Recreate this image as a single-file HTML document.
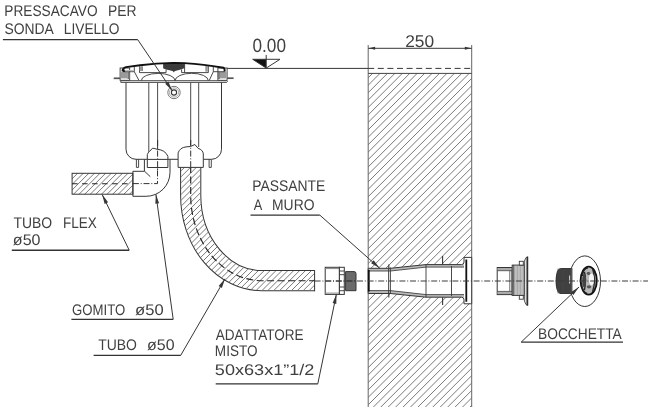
<!DOCTYPE html>
<html><head><meta charset="utf-8"><style>
html,body{margin:0;padding:0;background:#fff;}
svg{display:block;}
text{font-family:"Liberation Sans",sans-serif;}
svg{will-change:transform;}
</style></head><body>
<svg width="650" height="407" viewBox="0 0 650 407">
<rect width="650" height="407" fill="#fff"/>
<defs>
<mask id="mTube" maskUnits="userSpaceOnUse" x="0" y="0" width="650" height="407"><path d="M190.7,166 L190.7,195.2 A71.3,85.5 0 0 0 262,280.7 L314.6,280.7" stroke="#fff" stroke-width="19.2" fill="none"/></mask>
<clipPath id="cFlex"><rect x="72.1" y="173.3" width="60.8" height="20.9"/></clipPath>
<clipPath id="cWall"><rect x="368.2" y="73.4" width="103.5" height="340"/></clipPath>
<clipPath id="cTubeTop"><rect x="180" y="167.4" width="21" height="20"/></clipPath>
</defs>
<g clip-path="url(#cWall)"><path d="M22.10,409.00L360.10,71.00M29.54,409.00L367.54,71.00M36.97,409.00L374.97,71.00M44.40,409.00L382.40,71.00M51.83,409.00L389.83,71.00M59.26,409.00L397.26,71.00M66.70,409.00L404.70,71.00M74.13,409.00L412.13,71.00M81.56,409.00L419.56,71.00M88.99,409.00L426.99,71.00M96.42,409.00L434.42,71.00M103.86,409.00L441.86,71.00M111.29,409.00L449.29,71.00M118.72,409.00L456.72,71.00M126.15,409.00L464.15,71.00M133.58,409.00L471.58,71.00M141.02,409.00L479.02,71.00M148.45,409.00L486.45,71.00M155.88,409.00L493.88,71.00M163.31,409.00L501.31,71.00M170.74,409.00L508.74,71.00M178.18,409.00L516.18,71.00M185.61,409.00L523.61,71.00M193.04,409.00L531.04,71.00M200.47,409.00L538.47,71.00M207.90,409.00L545.90,71.00M215.34,409.00L553.34,71.00M222.77,409.00L560.77,71.00M230.20,409.00L568.20,71.00M237.63,409.00L575.63,71.00M245.06,409.00L583.06,71.00M252.50,409.00L590.50,71.00M259.93,409.00L597.93,71.00M267.36,409.00L605.36,71.00M274.79,409.00L612.79,71.00M282.22,409.00L620.22,71.00M289.66,409.00L627.66,71.00M297.09,409.00L635.09,71.00M304.52,409.00L642.52,71.00M311.95,409.00L649.95,71.00M319.38,409.00L657.38,71.00M326.82,409.00L664.82,71.00M334.25,409.00L672.25,71.00M341.68,409.00L679.68,71.00M349.11,409.00L687.11,71.00M356.54,409.00L694.54,71.00M363.98,409.00L701.98,71.00M371.41,409.00L709.41,71.00M378.84,409.00L716.84,71.00M386.27,409.00L724.27,71.00M393.70,409.00L731.70,71.00M401.14,409.00L739.14,71.00M408.57,409.00L746.57,71.00M416.00,409.00L754.00,71.00M423.43,409.00L761.43,71.00M430.86,409.00L768.86,71.00M438.30,409.00L776.30,71.00M445.73,409.00L783.73,71.00M453.16,409.00L791.16,71.00M460.59,409.00L798.59,71.00M468.02,409.00L806.02,71.00M475.46,409.00L813.46,71.00M482.89,409.00L820.89,71.00" stroke="#7a7a7a" stroke-width="1.0" fill="none"/></g>
<path d="M368.2,45 V407 M471.7,45 V407" stroke="#666" stroke-width="1" fill="none"/>
<path d="M368.2,73.4 H471.7" stroke="#444" stroke-width="1" fill="none"/>
<path d="M368.2,48.3 H471.7" stroke="#363636" stroke-width="1" fill="none"/>
<path d="M368.60,48.30L375.10,46.85L375.10,49.75Z" fill="#363636"/>
<path d="M471.30,48.30L464.80,49.75L464.80,46.85Z" fill="#363636"/>
<path d="M226.8,68.4 H368.2" stroke="#363636" stroke-width="1" fill="none"/>
<path d="M368.2,68.4 H471.7" stroke="#363636" stroke-width="1" stroke-dasharray="6 3.6" fill="none"/>
<path d="M252.7,59.3 L266.2,68.1 L266.2,59.3 Z" fill="#111"/>
<path d="M252.7,59.3 H280 L266.2,68.1 Z M266.2,54.9 V68.1" stroke="#363636" stroke-width="1" fill="none"/>
<path d="M368.2,268.3 H390.4 L426,264.6 H461.5 Q464,264.6 464,262 V257.4 H471.7 V303.8 H464 V299.8 Q464,297.2 461.5,297.2 H426 L390.4,293.5 H368.2 Z" fill="#fff" stroke="none"/>
<path d="M368.2,268.3 H390.4 L426,264.6 H464 V267.1 H426 L390.4,271 H368.2 Z M368.2,290.6 H390.4 L426,294.6 H464 V297.2 H426 L390.4,293.5 H368.2 Z" fill="#bbb"/>
<path d="M368.2,268.3 H390.4 L426,264.6 H461.5 Q464,264.6 464,262 V257.4 H471.7 V303.8 H464 V299.8 Q464,297.2 461.5,297.2 H426 L390.4,293.5 H368.2 Z" fill="none" stroke="#363636" stroke-width="1"/>
<path d="M368.2,271 H390.4 L426,267.1 H464 M368.2,290.6 H390.4 L426,294.6 H464" stroke="#444" stroke-width="0.9" fill="none"/>
<path d="M388.6,268.3 V293.5 M390.4,267.5 V293.5 M426,264.6 V297.2 M451.5,266 V296" stroke="#363636" stroke-width="0.9" fill="none"/>
<path d="M368.8,270 V291.4 M466.3,259.5 V301.8" stroke="#111" stroke-width="1.8" fill="none"/>
<path d="M388.8,264.4 V268.3 M388.8,293.5 V297.4 M442.6,256 V264.6 M442.6,297.2 V305" stroke="#363636" stroke-width="1.1" fill="none"/>
<path d="M190.7,166 L190.7,195.2 A71.3,85.5 0 0 0 262,280.7 L314.6,280.7" stroke="#363636" stroke-width="21.2" fill="none"/>
<path d="M190.7,166 L190.7,195.2 A71.3,85.5 0 0 0 262,280.7 L314.6,280.7" stroke="#fff" stroke-width="19.2" fill="none"/>
<g mask="url(#mTube)"><path d="M20.40,302.00L164.40,158.00M26.30,302.00L170.30,158.00M32.20,302.00L176.20,158.00M38.10,302.00L182.10,158.00M44.00,302.00L188.00,158.00M49.90,302.00L193.90,158.00M55.80,302.00L199.80,158.00M61.70,302.00L205.70,158.00M67.60,302.00L211.60,158.00M73.50,302.00L217.50,158.00M79.40,302.00L223.40,158.00M85.30,302.00L229.30,158.00M91.20,302.00L235.20,158.00M97.10,302.00L241.10,158.00M103.00,302.00L247.00,158.00M108.90,302.00L252.90,158.00M114.80,302.00L258.80,158.00M120.70,302.00L264.70,158.00M126.60,302.00L270.60,158.00M132.50,302.00L276.50,158.00M138.40,302.00L282.40,158.00M144.30,302.00L288.30,158.00M150.20,302.00L294.20,158.00M156.10,302.00L300.10,158.00M162.00,302.00L306.00,158.00M167.90,302.00L311.90,158.00M173.80,302.00L317.80,158.00M179.70,302.00L323.70,158.00M185.60,302.00L329.60,158.00M191.50,302.00L335.50,158.00M197.40,302.00L341.40,158.00M203.30,302.00L347.30,158.00M209.20,302.00L353.20,158.00M215.10,302.00L359.10,158.00M221.00,302.00L365.00,158.00M226.90,302.00L370.90,158.00M232.80,302.00L376.80,158.00M238.70,302.00L382.70,158.00M244.60,302.00L388.60,158.00M250.50,302.00L394.50,158.00M256.40,302.00L400.40,158.00M262.30,302.00L406.30,158.00M268.20,302.00L412.20,158.00M274.10,302.00L418.10,158.00M280.00,302.00L424.00,158.00M285.90,302.00L429.90,158.00M291.80,302.00L435.80,158.00M297.70,302.00L441.70,158.00M303.60,302.00L447.60,158.00M309.50,302.00L453.50,158.00M315.40,302.00L459.40,158.00M321.30,302.00L465.30,158.00M327.20,302.00L471.20,158.00" stroke="#787878" stroke-width="1.0" fill="none"/></g>
<path d="M314.6,270.1 V291.3" stroke="#363636" stroke-width="1" fill="none"/>
<path d="M190.7,166 L190.7,195.2 A71.3,85.5 0 0 0 262,280.7 L314.6,280.7" stroke="#222" stroke-width="1.15" stroke-dasharray="7 3.5" fill="none"/>
<rect x="325.2" y="267.3" width="14.2" height="27.1" fill="#fff" stroke="#363636" stroke-width="1"/>
<path d="M325.2,268.6 H339.4 M325.2,293.1 H339.4" stroke="#888" stroke-width="1" fill="none"/>
<rect x="339.4" y="267.3" width="4.9" height="27.1" fill="#fff" stroke="#363636" stroke-width="1"/>
<path d="M339.4,271 H344.3 M339.4,274.7 H344.3 M339.4,287 H344.3 M339.4,290.7 H344.3" stroke="#363636" stroke-width="0.9" fill="none"/>
<path d="M345.6,271.6 H354 Q356,271.6 356,273.6 V290.7 H345.6 Z" fill="#6a6a6a" stroke="#363636" stroke-width="1"/>
<path d="M325.2,281 H356" stroke="#333" stroke-width="1" stroke-dasharray="6 1.8 1 1.8" fill="none"/>
<g clip-path="url(#cFlex)"><path d="M35.10,199.00L66.10,168.00M40.70,199.00L71.70,168.00M46.30,199.00L77.30,168.00M51.90,199.00L82.90,168.00M57.50,199.00L88.50,168.00M63.10,199.00L94.10,168.00M68.70,199.00L99.70,168.00M74.30,199.00L105.30,168.00M79.90,199.00L110.90,168.00M85.50,199.00L116.50,168.00M91.10,199.00L122.10,168.00M96.70,199.00L127.70,168.00M102.30,199.00L133.30,168.00M107.90,199.00L138.90,168.00M113.50,199.00L144.50,168.00M119.10,199.00L150.10,168.00M124.70,199.00L155.70,168.00M130.30,199.00L161.30,168.00M135.90,199.00L166.90,168.00M141.50,199.00L172.50,168.00" stroke="#787878" stroke-width="1.0" fill="none"/></g>
<rect x="72.1" y="173.3" width="60.8" height="20.9" fill="none" stroke="#363636" stroke-width="1"/>
<path d="M72.1,183.7 H132.9" stroke="#222" stroke-width="1.1" stroke-dasharray="5.5 4.5" fill="none"/>
<path d="M132.9,171.3 H144.4 V159.3 M132.9,171.3 V196.3 H146.1 A23.9,23.9 0 0 0 170,172.4 V159.3" fill="none" stroke="#363636" stroke-width="1"/>
<path d="M144.4,171.1 L150.3,176.7" fill="none" stroke="#363636" stroke-width="1"/>
<path d="M132.9,183.6 H157.5 V140" fill="none" stroke="#333" stroke-width="1" stroke-dasharray="6 1.8 1 1.8"/>
<path d="M126,82.3 V149.3 A10,10 0 0 0 136,159.3 H147.3 M167.9,159.3 H178.1 M203.3,159.3 H211.5 A10,10 0 0 0 221.5,149.3 V82.3" fill="none" stroke="#363636" stroke-width="1"/>
<path d="M148.8,82.3 V153 M157.6,82.3 V149 M190.7,82.3 V146.5 M198.7,82.3 V147" fill="none" stroke="#363636" stroke-width="0.9"/>
<path d="M136.4,159.3 V167.4 H138.6 V159.3 M209.1,159.3 V167.4 H211.3 V159.3" fill="none" stroke="#363636" stroke-width="0.9"/>
<path d="M147.3,167.5 V154.6 Q148,152.5 149.5,151.5 L152.5,148.2 Q155,148.5 157.2,149.3 Q165,149.8 167.9,156.3 V167.5 Z" fill="#fff" stroke="#363636" stroke-width="1"/>
<path d="M147.3,159.4 H167.9" fill="none" stroke="#363636" stroke-width="1"/>
<path d="M178.1,167.4 V152.9 Q180,147.5 186,146.9 L190.5,146.5 L194.9,144.5 L198.1,148.3 Q203,150 203.3,153.9 V167.4 Z" fill="#fff" stroke="#363636" stroke-width="1"/>
<path d="M157.6,140 V170 M190.7,140 V168" fill="none" stroke="#333" stroke-width="1" stroke-dasharray="6 1.8 1 1.8"/>
<path d="M120.8,80.7 H226.6 L227.4,81.6 L226.6,82.4 H120.8 Z" fill="#fff" stroke="#363636" stroke-width="0.9"/>
<rect x="120.1" y="68" width="9.6" height="12.3" fill="#fff" stroke="#363636" stroke-width="0.9"/>
<rect x="120.7" y="72" width="6.8" height="6.4" fill="#9a9a9a"/>
<rect x="127.5" y="72" width="2.2" height="7" fill="#777"/>
<path d="M113.7,78.3 H120.1" stroke="#555" stroke-width="1.7" fill="none"/>
<rect x="217.9" y="68" width="9.2" height="12.3" fill="#fff" stroke="#363636" stroke-width="0.9"/>
<rect x="219.8" y="72" width="6.8" height="6.4" fill="#9a9a9a"/>
<rect x="217.9" y="72" width="2" height="7" fill="#777"/>
<path d="M227.1,78.2 H233.6" stroke="#555" stroke-width="1.7" fill="none"/>
<path d="M124,71.7 H134.3 V66.6 M134.3,71.7 L138.9,80.3 M139.5,66.4 V72.6 H166.1 V69.4 M142.2,66.4 V70.9 M181.6,69.4 V72.6 H208.3 V65.8 M184.6,62.8 V72.6 M164.2,63.5 V68.4 M213.3,66 V71.7 L209.3,80.3 M213.3,71.7 H224.5" fill="none" stroke="#363636" stroke-width="0.9"/>
<path d="M141.3,80.6 A16.9,7.2 0 0 1 175.1,80.6 A16.6,7.3 0 0 1 208.3,80.6" fill="none" stroke="#363636" stroke-width="0.9"/>
<rect x="139.6" y="66.4" width="2.6" height="4.5" fill="#999"/>
<rect x="205.3" y="65.8" width="2.4" height="5.9" fill="#999"/>
<path d="M125,70.6 H133.5" stroke="#bbb" stroke-width="1.2" fill="none"/>
<path d="M163.2,63.2 Q174,62 184.6,63 V68 Q182,69.6 178,70.3 Q175.5,70.6 174.6,71.3 L173.8,72.5 L173,71.3 Q172,70.6 169.5,70.3 Q166,69.8 163.2,68.3 Z" fill="#3c3c3c"/>
<path d="M122.5,71.5 Q122.3,68.3 126,67.1 Q134,66 140,65.2 Q156,63.2 174,62.9 Q195,63.2 213,66.1 L223.4,67.7 Q225,68.5 224.6,71.7" fill="none" stroke="#111" stroke-width="1.9"/>
<path d="M123.3,69.5 L124.3,71.8" stroke="#111" stroke-width="2" fill="none"/>
<circle cx="174" cy="92.5" r="6.2" fill="#fff" stroke="#777" stroke-width="1"/>
<circle cx="174" cy="92.5" r="4.6" fill="none" stroke="#999" stroke-width="0.8"/>
<circle cx="174" cy="92.5" r="2.6" fill="none" stroke="#363636" stroke-width="1.1"/>
<rect x="497.2" y="267.5" width="14.8" height="27.1" fill="#fff" stroke="#363636" stroke-width="1"/>
<path d="M497.7,268 H511.5 V270.7 H497.7 Z M497.7,291.4 H511.5 V294.1 H497.7 Z" fill="#aaa"/>
<path d="M497.2,270.7 H512 M497.2,291.4 H512 M509.8,270.7 V291.4" stroke="#444" stroke-width="0.8" fill="none"/>
<rect x="512.2" y="265.1" width="12.4" height="30.3" fill="#dadada" stroke="#363636" stroke-width="1"/>
<path d="M514.60,265.6 V294.9 M516.10,265.6 V294.9 M517.60,265.6 V294.9 M519.10,265.6 V294.9 M520.60,265.6 V294.9 M522.10,265.6 V294.9 M523.60,265.6 V294.9 " stroke="#707070" stroke-width="0.5" fill="none"/>
<path d="M513.6,265.1 V295.4" stroke="#444" stroke-width="0.8" fill="none"/>
<rect x="519.3" y="261.3" width="4" height="3.8" fill="#fff" stroke="#363636" stroke-width="0.9"/>
<rect x="519.3" y="295.4" width="4" height="3.8" fill="#fff" stroke="#363636" stroke-width="0.9"/>
<path d="M524.4,261 L526,257.6 L527.8,256.6 V305.6 L526,304.6 L524.4,301 Z" fill="#e0e0e0" stroke="#363636" stroke-width="0.8"/>
<path d="M527.2,257 V305.2" stroke="#222" stroke-width="1.3" fill="none"/>
<ellipse cx="584.8" cy="281.2" rx="15.7" ry="25.3" fill="#fff" stroke="#363636" stroke-width="1"/>
<path d="M572.4,267.9 H561.5 Q555.6,267.9 555.6,281 Q555.6,294.1 561.5,294.1 H572.4 Z" fill="#383838"/>
<path d="M557.80,268.6 V293.4 M558.95,268.6 V293.4 M560.10,268.6 V293.4 M561.25,268.6 V293.4 M562.40,268.6 V293.4 M563.55,268.6 V293.4 M564.70,268.6 V293.4 M565.85,268.6 V293.4 M567.00,268.6 V293.4 M568.15,268.6 V293.4 M569.30,268.6 V293.4 M570.45,268.6 V293.4 M571.60,268.6 V293.4 " stroke="#505050" stroke-width="0.5" fill="none"/>
<path d="M569.6,275.5 V283.5" stroke="#ccc" stroke-width="1.1" fill="none"/>
<path d="M571.4,268.5 V293.5" stroke="#666" stroke-width="0.6" fill="none"/>
<ellipse cx="588.7" cy="280.6" rx="8.1" ry="14" fill="#b8b8b8" stroke="#111" stroke-width="1.9"/>
<path d="M582.5,276 Q583,268.5 588,267.8 M581.5,283 Q582,292 587,293.3 M584.5,272 Q586.5,280 584.5,290 M592.5,268.5 Q596.5,280 592.5,292" stroke="#222" stroke-width="1.3" fill="none"/>
<ellipse cx="584.2" cy="280.6" rx="2" ry="7" fill="#444"/>
<ellipse cx="591.5" cy="279.5" rx="2.6" ry="6" fill="#f4f4f4"/>
<ellipse cx="589" cy="286.8" rx="2.2" ry="1.6" fill="#555"/>
<ellipse cx="588.5" cy="273.5" rx="1.8" ry="1.4" fill="#555"/>
<path d="M314.6,281 H648" stroke="#3a3a3a" stroke-width="1" stroke-dasharray="6 1.8 1 1.8" fill="none"/>
<path d="M137.7,39.6 L172.1,90.5 M129.2,250.2 L102.2,194.6 M173.2,319.3 L155.9,194.2 M180.7,355.4 L225,278.8 M317.8,383.8 L336.4,294.2 M319.8,215.1 L379.5,268.1 M521.2,342.1 L579,287" fill="none" stroke="#363636" stroke-width="1"/>
<path d="M2.9,39.6 L137.7,39.6 M11.8,250.2 L129.2,250.2 M71.4,319.3 L173.2,319.3 M93.6,355.4 L180.7,355.4 M215.7,383.8 L317.8,383.8 M250.5,215.1 L319.8,215.1 M623.0,342.1 L521.2,342.1" fill="none" stroke="#333" stroke-width="1.35"/>
<path d="M172.10,90.50L165.21,83.69L168.35,81.57Z" fill="#363636"/>
<path d="M102.20,194.60L108.06,202.32L104.64,203.98Z" fill="#363636"/>
<path d="M155.90,194.20L159.08,203.35L155.32,203.87Z" fill="#363636"/>
<path d="M225.00,278.80L221.89,287.97L218.60,286.07Z" fill="#363636"/>
<path d="M336.40,294.20L336.33,303.89L332.61,303.12Z" fill="#363636"/>
<path d="M379.50,268.10L371.13,263.21L373.66,260.37Z" fill="#363636"/>
<path d="M579.00,287.00L573.43,294.93L570.81,292.18Z" fill="#363636"/>
<g fill="#404040" font-family="Liberation Sans, sans-serif" text-rendering="geometricPrecision"><text x="4.31" y="15.60" font-size="15.40" textLength="93.28" lengthAdjust="spacingAndGlyphs">PRESSACAVO</text><text x="108.06" y="15.60" font-size="15.40" textLength="28.54" lengthAdjust="spacingAndGlyphs">PER</text><text x="4.47" y="34.30" font-size="15.40" textLength="49.41" lengthAdjust="spacingAndGlyphs">SONDA</text><text x="63.87" y="34.10" font-size="15.40" textLength="55.66" lengthAdjust="spacingAndGlyphs">LIVELLO</text><text x="252.47" y="52.30" font-size="19.20" textLength="33.51" lengthAdjust="spacingAndGlyphs">0.00</text><text x="405.19" y="46.60" font-size="17.00" textLength="28.96" lengthAdjust="spacingAndGlyphs">250</text><text x="252.27" y="191.30" font-size="15.40" textLength="73.06" lengthAdjust="spacingAndGlyphs">PASSANTE</text><text x="253.65" y="209.60" font-size="15.40" textLength="8.49" lengthAdjust="spacingAndGlyphs">A</text><text x="272.07" y="209.60" font-size="15.40" textLength="42.39" lengthAdjust="spacingAndGlyphs">MURO</text><text x="13.45" y="227.90" font-size="15.40" textLength="38.71" lengthAdjust="spacingAndGlyphs">TUBO</text><text x="63.06" y="227.90" font-size="15.40" textLength="33.79" lengthAdjust="spacingAndGlyphs">FLEX</text><text x="12.84" y="244.50" font-size="15.40" textLength="27.69" lengthAdjust="spacingAndGlyphs">ø50</text><text x="72.06" y="314.90" font-size="15.40" textLength="53.16" lengthAdjust="spacingAndGlyphs">GOMITO</text><text x="135.05" y="314.90" font-size="15.40" textLength="28.59" lengthAdjust="spacingAndGlyphs">ø50</text><text x="98.26" y="350.40" font-size="15.40" textLength="38.71" lengthAdjust="spacingAndGlyphs">TUBO</text><text x="147.05" y="350.40" font-size="15.40" textLength="27.51" lengthAdjust="spacingAndGlyphs">ø50</text><text x="215.82" y="339.80" font-size="15.40" textLength="87.77" lengthAdjust="spacingAndGlyphs">ADATTATORE</text><text x="214.85" y="355.80" font-size="15.40" textLength="42.65" lengthAdjust="spacingAndGlyphs">MISTO</text><text x="214.88" y="374.50" font-size="15.40" textLength="99.53" lengthAdjust="spacingAndGlyphs">50x63x1”1/2</text><text x="538.12" y="339.20" font-size="15.40" textLength="83.68" lengthAdjust="spacingAndGlyphs">BOCCHETTA</text></g>
</svg>
</body></html>
